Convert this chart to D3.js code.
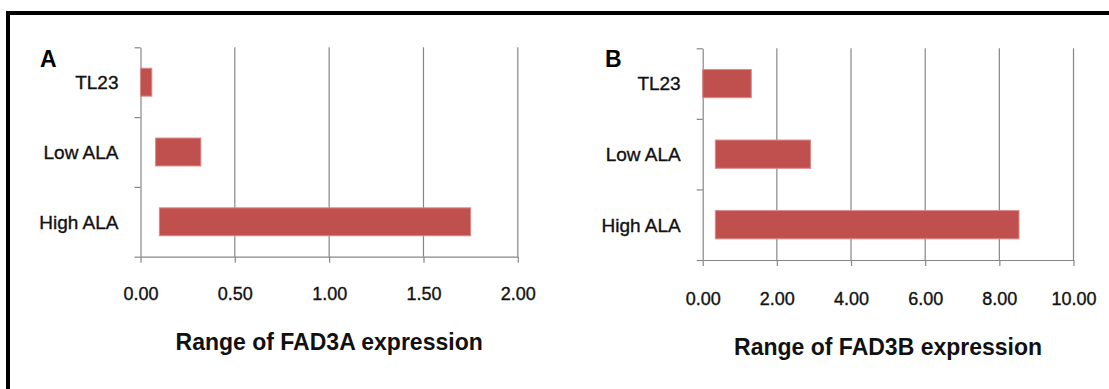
<!DOCTYPE html>
<html>
<head>
<meta charset="utf-8">
<script src="https://cdn.jsdelivr.net/npm/d3@7"></script>
<style>
  html, body { margin: 0; padding: 0; background: #fff; }
  svg { display: block; font-family: "Liberation Sans", Arial, sans-serif; }
</style>
</head>
<body>
<script>
// categories, top to bottom
const categories = ["TL23", "Low ALA", "High ALA"];

// FAD3A range (min / max) per category
const fad3aMin = [0.00, 0.08, 0.10];
const fad3aMax = [0.06, 0.32, 1.75];
const fad3aTicks = [0, 0.5, 1.0, 1.5, 2.0];

// FAD3B range (min / max) per category
const fad3bMin = [0.00, 0.34, 0.34];
const fad3bMax = [1.31, 2.91, 8.53];
const fad3bTicks = [0, 2, 4, 6, 8, 10];

const W = 1109, H = 389;
const gridColor = "#878787";
const barColor = "#c0504d";
const textColor = "#111";

const svg = d3.select("body").append("svg")
    .attr("width", W)
    .attr("height", H);

// outer frame (top + left edge visible)
svg.append("path")
    .attr("d", `M8,${H + 5} L8,13 L${W + 5},13`)
    .attr("fill", "none")
    .attr("stroke", "#000")
    .attr("stroke-width", 4);

function drawPanel(opts) {
    const { letter, title, mins, maxs, ticks, x0, x1, top, bottom, tickPad, titleY } = opts;

    const x = d3.scaleLinear()
        .domain([ticks[0], ticks[ticks.length - 1]])
        .range([x0, x1]);

    const y = d3.scaleBand()
        .domain(categories)
        .range([top, bottom])
        .paddingInner(0.6)
        .paddingOuter(0.3);

    // separators between categories
    const ySep = d3.scaleLinear()
        .domain([0, categories.length])
        .range([bottom, top]);

    const g = svg.append("g");

    // vertical gridlines
    g.append("g")
        .selectAll("line")
        .data(ticks.slice(1))
        .enter().append("line")
        .attr("x1", d => x(d))
        .attr("x2", d => x(d))
        .attr("y1", top)
        .attr("y2", bottom)
        .attr("stroke", gridColor)
        .attr("stroke-width", 1.2);

    // x axis
    const xAxis = g.append("g")
        .attr("transform", `translate(0,${bottom})`)
        .call(d3.axisBottom(x)
            .tickValues(ticks)
            .tickFormat(d3.format(".2f"))
            .tickSizeInner(6)
            .tickSizeOuter(0)
            .tickPadding(tickPad));
    xAxis.selectAll("path, line")
        .attr("stroke", gridColor)
        .attr("stroke-width", 1.2);
    xAxis.selectAll("text")
        .attr("fill", textColor)
        .attr("stroke", textColor)
        .attr("stroke-width", 0.35)
        .style("font-family", "'Liberation Sans', Arial, sans-serif")
        .style("font-size", "18px");

    // y axis
    const yAxis = g.append("g")
        .attr("transform", `translate(${x0},0)`)
        .call(d3.axisLeft(ySep)
            .tickValues(d3.range(categories.length + 1))
            .tickFormat("")
            .tickSizeInner(6)
            .tickSizeOuter(0));
    yAxis.selectAll("path, line")
        .attr("stroke", gridColor)
        .attr("stroke-width", 1.2);

    // category labels
    g.append("g")
        .selectAll("text")
        .data(categories)
        .enter().append("text")
        .attr("x", x0 - 22)
        .attr("y", d => y(d) + y.bandwidth() / 2)
        .attr("dy", "0.36em")
        .attr("text-anchor", "end")
        .attr("fill", textColor)
        .attr("stroke", textColor)
        .attr("stroke-width", 0.35)
        .style("font-size", "19px")
        .text(d => d);

    // range bars
    g.append("g")
        .selectAll("rect")
        .data(categories)
        .enter().append("rect")
        .attr("x", (d, i) => x(mins[i]))
        .attr("y", d => y(d))
        .attr("width", (d, i) => x(maxs[i]) - x(mins[i]))
        .attr("height", y.bandwidth())
        .attr("fill", barColor)
        .attr("stroke", "#d98a88")
        .attr("stroke-width", 1);

    // axis title
    g.append("text")
        .attr("x", (x0 + x1) / 2)
        .attr("y", titleY)
        .attr("text-anchor", "middle")
        .attr("fill", textColor)
        .style("font-size", "23px")
        .style("font-weight", "bold")
        .text(title);

    // panel letter
    g.append("text")
        .attr("x", opts.letterX)
        .attr("y", opts.letterY)
        .attr("fill", "#000")
        .style("font-size", "23px")
        .style("font-weight", "bold")
        .text(letter);
}

drawPanel({
    letter: "A", letterX: 40, letterY: 66.5,
    title: "Range of FAD3A expression", titleY: 350,
    mins: fad3aMin, maxs: fad3aMax, ticks: fad3aTicks,
    x0: 140.5, x1: 517.8, top: 47.3, bottom: 256.7,
    tickPad: 25
});

drawPanel({
    letter: "B", letterX: 605, letterY: 67.3,
    title: "Range of FAD3B expression", titleY: 355,
    mins: fad3bMin, maxs: fad3bMax, ticks: fad3bTicks,
    x0: 702.7, x1: 1073.5, top: 48.3, bottom: 260,
    tickPad: 26
});
</script>
</body>
</html>
